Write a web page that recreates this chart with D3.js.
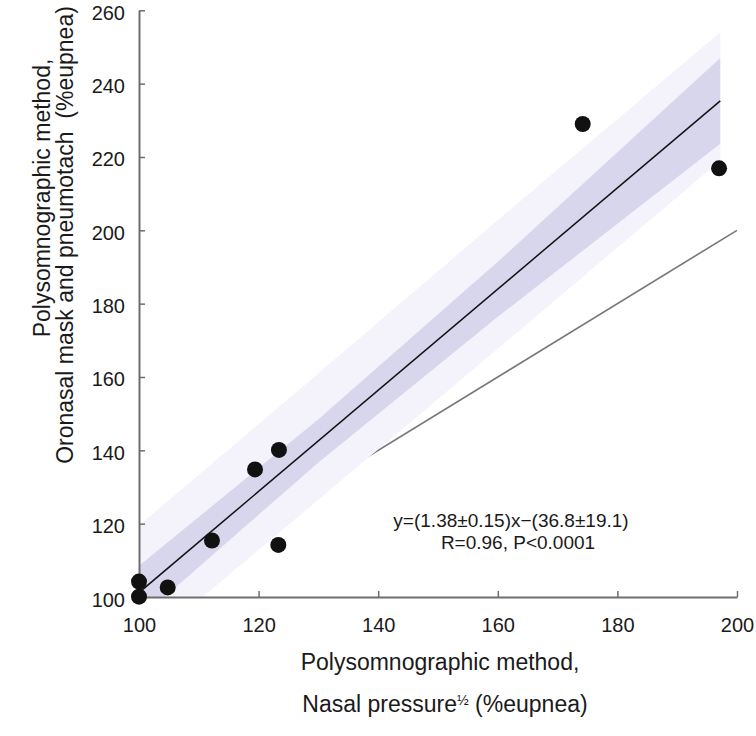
<!DOCTYPE html>
<html>
<head>
<meta charset="utf-8">
<script src="https://cdn.jsdelivr.net/npm/d3@7"></script>
<style>
  html, body { margin: 0; padding: 0; background: #fff; }
  svg text { font-family: "Liberation Sans", Arial, sans-serif; }
</style>
</head>
<body>
<div id="chart"></div>
<script>
// measured points (nasal pressure^1/2 vs pneumotach, %eupnea)
const nasalX = [100, 100, 104.8, 112.2, 119.4, 123.4, 123.3, 174.2, 197.0];
const pneumoY = [100.1, 104.2, 102.6, 115.4, 134.8, 140.1, 114.2, 229.0, 216.9];

// regression line end points
const fitX = [100, 197.2];
const fitY = [101.2, 235.3];

// bands (inner = confidence, outer = prediction)
const bandX = [100, 130, 160, 197.2];
const confLow = [93.9, 136.7, 176.4, 223.6];
const confHigh = [108.5, 148.5, 191.4, 247.0];
const predLow = [85.5, 126.5, 167.7, 219.0];
const predHigh = [119.5, 161.0, 202.8, 254.0];

// identity line
const idX = [100, 200];
const idY = [100, 200];

const xTicks = [100, 120, 140, 160, 180, 200];
const yTicks = [100, 120, 140, 160, 180, 200, 220, 240, 260];

const W = 756, H = 736;
const margin = { top: 10.3, right: 19, bottom: 139, left: 139 };
const w = W - margin.left - margin.right;
const h = H - margin.top - margin.bottom;

const svg = d3.select('#chart').append('svg').attr('width', W).attr('height', H);
const g = svg.append('g').attr('transform', `translate(${margin.left},${margin.top})`);

const x = d3.scaleLinear().domain([100, 200]).range([0, w]);
const y = d3.scaleLinear().domain([100, 260]).range([h, 0]);

g.append('clipPath').attr('id', 'plotClip')
  .append('rect').attr('x', 0).attr('y', 0).attr('width', w).attr('height', h);

const plot = g.append('g').attr('clip-path', 'url(#plotClip)');

// line of identity (under the bands)
plot.append('line')
  .attr('x1', x(idX[0])).attr('y1', y(idY[0]))
  .attr('x2', x(idX[1])).attr('y2', y(idY[1]))
  .attr('stroke', '#777').attr('stroke-width', 1.6);

const band = (lo, hi) => d3.area()
  .x((d, i) => x(bandX[i]))
  .y0((d, i) => y(lo[i]))
  .y1((d, i) => y(hi[i]))(bandX);

plot.append('path').attr('d', band(predLow, predHigh)).attr('fill', '#f4f3fb');
plot.append('path').attr('d', band(confLow, confHigh)).attr('fill', '#d8d6ec');

plot.append('line')
  .attr('x1', x(fitX[0])).attr('y1', y(fitY[0]))
  .attr('x2', x(fitX[1])).attr('y2', y(fitY[1]))
  .attr('stroke', '#111').attr('stroke-width', 1.5);

// axes
const axisColor = '#6e6e6e';
const yAxis = g.append('g')
  .call(d3.axisLeft(y).tickValues(yTicks).tickSizeInner(-6).tickSizeOuter(0).tickPadding(14));
const xAxis = g.append('g').attr('transform', `translate(0,${h})`)
  .call(d3.axisBottom(x).tickValues(xTicks).tickSizeInner(-6).tickSizeOuter(0).tickPadding(21));
[xAxis, yAxis].forEach(a => {
  a.select('.domain').attr('stroke', axisColor).attr('stroke-width', 2);
  a.selectAll('.tick line').attr('stroke', axisColor).attr('stroke-width', 1.5);
  a.selectAll('.tick text').style('font-size', '20px').attr('fill', '#1a1a1a')
    .style('font-family', '"Liberation Sans", Arial, sans-serif');
});
yAxis.selectAll('.tick text').attr('dy', '0.45em');

// points
g.selectAll('.pt').data(nasalX).join('circle').attr('class', 'pt')
  .attr('cx', d => x(d)).attr('cy', (d, i) => y(pneumoY[i]))
  .attr('r', 8).attr('fill', '#111');

// equation
svg.append('text').attr('x', 511).attr('y', 527).attr('text-anchor', 'middle')
  .style('font-size', '19px').attr('fill', '#1a1a1a')
  .text('y=(1.38±0.15)x−(36.8±19.1)');
svg.append('text').attr('x', 518).attr('y', 549).attr('text-anchor', 'middle')
  .style('font-size', '19px').attr('fill', '#1a1a1a')
  .text('R=0.96, P<0.0001');

// axis titles
svg.append('text').attr('x', 440).attr('y', 670).attr('text-anchor', 'middle')
  .style('font-size', '23px').attr('fill', '#1a1a1a')
  .text('Polysomnographic method,');
const xt2 = svg.append('text').attr('x', 445).attr('y', 712).attr('text-anchor', 'middle')
  .style('font-size', '23px').attr('fill', '#1a1a1a');
xt2.append('tspan').text('Nasal pressure');
xt2.append('tspan').attr('dy', -7).style('font-size', '14px').text('½');
xt2.append('tspan').attr('dy', 7).text(' (%eupnea)');

svg.append('text').attr('transform', 'translate(50,198) rotate(-90)').attr('text-anchor', 'middle')
  .style('font-size', '23px').attr('fill', '#1a1a1a')
  .text('Polysomnographic method,');
svg.append('text').attr('transform', 'translate(73,235) rotate(-90)').attr('text-anchor', 'middle')
  .style('font-size', '23px').attr('fill', '#1a1a1a').attr('xml:space', 'preserve')
  .text('Oronasal mask and pneumotach  (%eupnea)');
</script>
</body>
</html>
